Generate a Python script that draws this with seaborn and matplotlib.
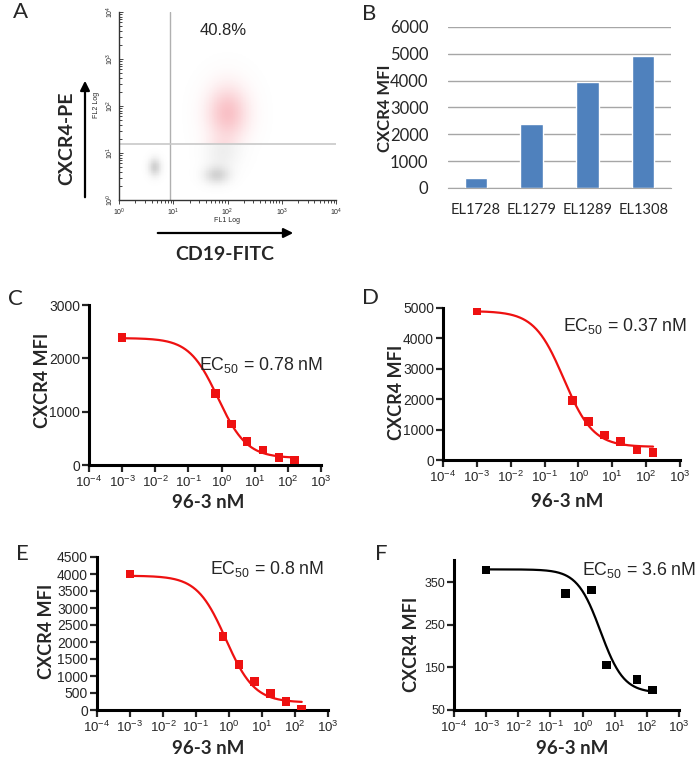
import numpy as np
import matplotlib
matplotlib.use('Agg')
import matplotlib.pyplot as plt
from matplotlib.colors import LinearSegmentedColormap
from matplotlib.ticker import LogLocator, LogFormatterSciNotation, NullFormatter
import seaborn as sns

# ---- data ----
# A: flow cytometry populations (log10 FL1, log10 FL2, spread x, spread y, weight)
flow_cx = [0.66, 1.80, 1.90, 2.00]
flow_cy = [0.70, 0.53, 0.95, 1.85]
flow_sx = [0.08, 0.16, 0.22, 0.26]
flow_sy = [0.13, 0.13, 0.25, 0.40]
flow_w = [1.0, 0.9, 0.3, 0.6]
gate_x = 8.7
gate_y = 15.5
gate_pct = '40.8%'

# B: CXCR4 MFI per cell line
cell_lines = ['EL1728', 'EL1279', 'EL1289', 'EL1308']
mfi = [380, 2400, 3950, 4930]

# C-F: 96-3 dose response
conc = [0.001, 0.66, 1.98, 5.93, 17.8, 53.3, 160]
mfi_c = [2390, 1340, 770, 440, 280, 145, 95]
mfi_d = [4910, 1950, 1260, 820, 600, 330, 250]
mfi_e = [4000, 2160, 1340, 830, 490, 245, 30]
conc_f = [0.001, 0.3, 1.9, 5.6, 50, 150]
mfi_f = [379, 323, 332, 156, 122, 97]

# fitted 4PL parameters: top, bottom, EC50, hill
fit_c = (2380, 130, 0.78, 1.0)
fit_d = (4900, 430, 0.37, 1.0)
fit_e = (3950, 220, 0.8, 1.0)
fit_f = (380, 90, 3.6, 1.2)

sns.set_style('white')
plt.rcParams['font.family'] = ['Liberation Sans', 'DejaVu Sans']
plt.rcParams['mathtext.default'] = 'regular'

W, H = 700, 758
fig = plt.figure(figsize=(7, 7.58), dpi=100)


def box(l, t, r, b):
    return [l / W, 1 - b / H, (r - l) / W, (b - t) / H]


def ftext(x, y, s, **kw):
    fig.text(x / W, 1 - y / H, s, **kw)


# ---- panel letters ----
for letter, (x, y) in zip('ABCDEF', [(13, 2), (362, 4), (8, 289), (362, 288), (16, 544), (375, 544)]):
    ftext(x, y, letter, family='Lato', fontsize=16, va='top', ha='left')

# ---- A: flow cytometry ----
axA = fig.add_axes(box(119, 12, 336, 200))
gx = np.linspace(0, 4, 300)
gy = np.linspace(0, 4, 300)
X, Y = np.meshgrid(gx, gy)
dens = np.zeros_like(X)
for cx, cy, sx, sy, w in zip(flow_cx, flow_cy, flow_sx, flow_sy, flow_w):
    dens += w * np.exp(-0.5 * (((X - cx) / sx) ** 2 + ((Y - cy) / sy) ** 2))
dens = dens / dens.max()
upper = (X > np.log10(gate_x)) & (Y > np.log10(gate_y))
grey_cmap = LinearSegmentedColormap.from_list('g', [(0.6, 0.6, 0.6, 0), (0.6, 0.6, 0.6, 0.45)])
pink_cmap = LinearSegmentedColormap.from_list('p', [(0.95, 0.4, 0.45, 0), (0.95, 0.4, 0.45, 0.5)])
axA.pcolormesh(10 ** gx, 10 ** gy, np.ma.masked_where(upper, dens), cmap=grey_cmap, vmin=0, vmax=1, shading='auto')
axA.pcolormesh(10 ** gx, 10 ** gy, np.ma.masked_where(~upper, dens), cmap=pink_cmap, vmin=0, vmax=0.75, shading='auto')
axA.set_xscale('log')
axA.set_yscale('log')
axA.set_xlim(1, 1e4)
axA.set_ylim(1, 1e4)
axA.axvline(gate_x, color='#b0b0b0', lw=1)
axA.axhline(gate_y, color='#c8c8c8', lw=1.2)
for s in ['top', 'right']:
    axA.spines[s].set_visible(False)
for s in ['left', 'bottom']:
    axA.spines[s].set_color('#333333')
    axA.spines[s].set_linewidth(1)
axA.xaxis.set_major_locator(LogLocator(base=10, numticks=10))
axA.yaxis.set_major_locator(LogLocator(base=10, numticks=10))
axA.xaxis.set_minor_locator(LogLocator(base=10, subs=np.arange(2, 10), numticks=10))
axA.yaxis.set_minor_locator(LogLocator(base=10, subs=np.arange(2, 10), numticks=10))
axA.xaxis.set_minor_formatter(NullFormatter())
axA.yaxis.set_minor_formatter(NullFormatter())
axA.tick_params(axis='x', which='both', direction='out', bottom=True, labelsize=5, pad=1.5, length=3, width=0.6)
axA.tick_params(axis='x', which='minor', length=2)
axA.tick_params(axis='y', which='both', direction='in', left=True, labelsize=5, pad=2, length=3, width=0.6)
axA.tick_params(axis='y', which='minor', length=2)
for lab in axA.get_yticklabels():
    lab.set_rotation(90)
    lab.set_va('center')
axA.text(0.48, 0.9, gate_pct, transform=axA.transAxes, ha='center', va='center', fontsize=12)
ftext(227, 221, 'FL1 Log', fontsize=5, ha='center', va='center')
ftext(97, 105, 'FL2 Log', fontsize=5, ha='center', va='center', rotation=90)
fig.add_artist(matplotlib.patches.FancyArrowPatch((85 / W, 1 - 200 / H), (85 / W, 1 - 78 / H),
                                                  transform=fig.transFigure, arrowstyle='-|>',
                                                  mutation_scale=14, lw=1.6, color='black'))
fig.add_artist(matplotlib.patches.FancyArrowPatch((155 / W, 1 - 233 / H), (296 / W, 1 - 233 / H),
                                                  transform=fig.transFigure, arrowstyle='-|>',
                                                  mutation_scale=14, lw=1.6, color='black'))
ftext(67, 138, 'CXCR4-PE', family='Lato', fontweight='bold', fontsize=14, rotation=90, ha='center', va='center')
ftext(225, 255, 'CD19-FITC', family='Lato', fontweight='bold', fontsize=14, ha='center', va='center')

# ---- B: bar chart ----
axB = fig.add_axes(box(448, 27, 671, 188))
sns.barplot(x=cell_lines, y=mfi, color='#4f81bd', width=0.4, saturation=1, ax=axB)
axB.set_ylim(0, 6000)
axB.set_yticks(range(0, 6001, 1000))
axB.yaxis.grid(True, color='#a6a6a6', lw=1)
axB.set_axisbelow(True)
for s in ['top', 'right', 'left']:
    axB.spines[s].set_visible(False)
axB.spines['bottom'].set_color('#a6a6a6')
axB.tick_params(axis='x', length=0, labelsize=10.5, pad=11)
axB.tick_params(axis='y', length=0, labelsize=12, pad=14)
for lab in axB.get_xticklabels() + axB.get_yticklabels():
    lab.set_family('Lato')
ftext(385, 108, 'CXCR4 MFI', family='Lato', fontweight='bold', fontsize=12, rotation=90, ha='center', va='center')


# ---- C-F: dose response ----
def dose_panel(rect, xs, ys, fit, color, ylim, yticks, ec50_txt, ec_xy, ylab_xy, xlab_xy, ytick_size=10):
    ax = fig.add_axes(box(*rect))
    top, bottom, ec50, hill = fit
    xx = np.logspace(np.log10(xs[0]), np.log10(xs[-1]), 200)
    yy = bottom + (top - bottom) / (1 + (xx / ec50) ** hill)
    sns.lineplot(x=xx, y=yy, color=color, lw=1.6, ax=ax)
    sns.scatterplot(x=xs, y=ys, marker='s', s=38, color=color, edgecolor='none', ax=ax, zorder=3)
    ax.set_xscale('log')
    ax.set_xlim(1e-4, 1e3)
    ax.set_ylim(*ylim)
    ax.set_yticks(yticks)
    ax.xaxis.set_major_locator(LogLocator(base=10, numticks=12))
    ax.xaxis.set_major_formatter(LogFormatterSciNotation())
    ax.xaxis.set_minor_locator(matplotlib.ticker.NullLocator())
    for s in ['top', 'right']:
        ax.spines[s].set_visible(False)
    for s in ['left', 'bottom']:
        ax.spines[s].set_linewidth(2.2)
        ax.spines[s].set_color('black')
    ax.tick_params(axis='both', direction='out', length=5, width=1.6, left=True, bottom=True, pad=1.5)
    ax.tick_params(axis='x', labelsize=9.5, pad=2)
    ax.tick_params(axis='y', labelsize=ytick_size)
    ax.set_xlabel('')
    ax.set_ylabel('')
    ftext(ec_xy[0], ec_xy[1], ec50_txt, fontsize=12.8, ha='left', va='center')
    ftext(ylab_xy[0], ylab_xy[1], 'CXCR4 MFI', family='Lato', fontweight='bold', fontsize=13,
          rotation=90, ha='center', va='center')
    ftext(xlab_xy[0], xlab_xy[1], '96-3 nM', family='Lato', fontweight='bold', fontsize=13.5,
          ha='center', va='center')
    return ax


dose_panel((89, 305, 321, 465), conc, mfi_c, fit_c, '#ee1111', (0, 3000), range(0, 3001, 1000),
           'EC$_{50}$ = 0.78 nM', (199, 365), (43, 380), (208, 503))
dose_panel((443, 308, 680, 460), conc, mfi_d, fit_d, '#ee1111', (0, 5000), range(0, 5001, 1000),
           'EC$_{50}$ = 0.37 nM', (563, 326), (396, 392), (567, 501))
dose_panel((97, 557, 328, 710), conc, mfi_e, fit_e, '#ee1111', (0, 4500), range(0, 4501, 500),
           'EC$_{50}$ = 0.8 nM', (210, 569), (46, 631), (208, 748))
dose_panel((454, 560, 679, 710), conc_f, mfi_f, fit_f, 'black', (50, 402), [50, 150, 250, 350],
           'EC$_{50}$ = 3.6 nM', (582, 570), (411, 644), (572, 748), ytick_size=9)

fig.savefig('out.png', dpi=100)
